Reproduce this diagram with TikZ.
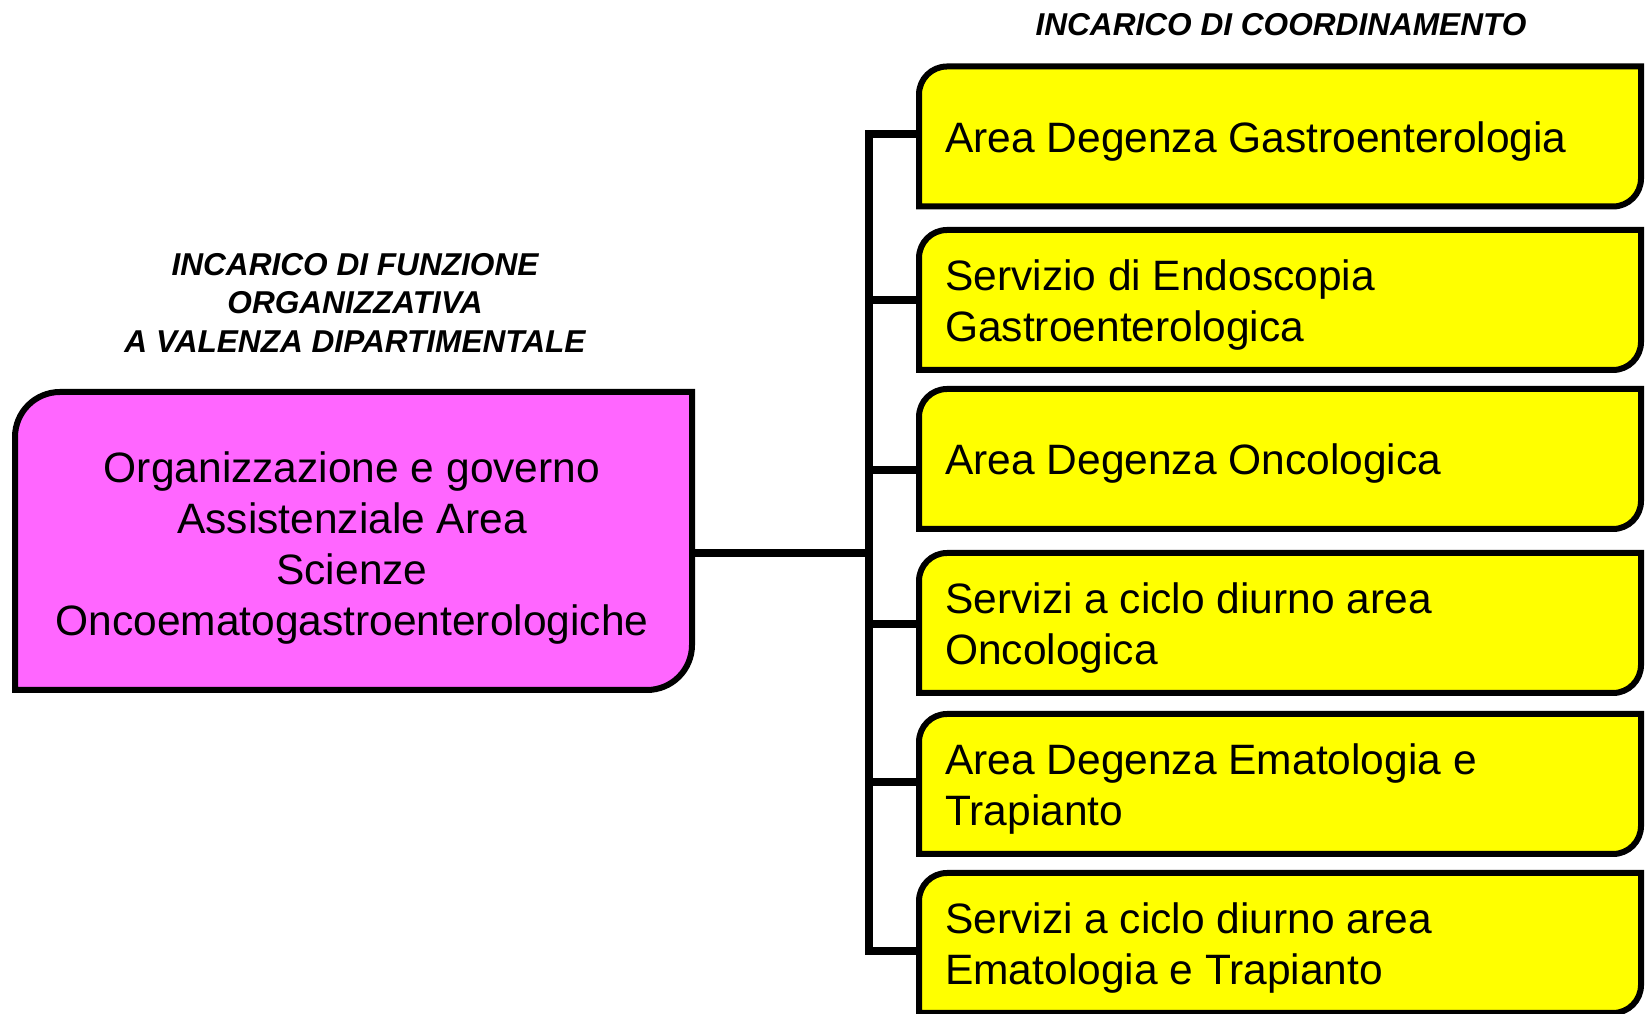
\documentclass[tikz,border=0pt]{standalone}
\usepackage{fontspec}
\setmainfont{Liberation Sans}
\newfontfamily\hdrfont{Liberation Sans}
\usetikzlibrary{calc}
\definecolor{ylw}{HTML}{FFFF00}
\definecolor{mgn}{HTML}{FF66FF}
\newcommand\tlbrshape[3]{%
  \filldraw[#3] (#1.south west) -- ([yshift=-#2]#1.north west)
    arc[start angle=180,end angle=90,radius=#2] -- (#1.north east)
    -- ([yshift=#2]#1.south east)
    arc[start angle=0,end angle=-90,radius=#2] -- cycle;}
\begin{document}
\begin{tikzpicture}[x=1pt,y=1pt,
  frame/.style={draw=none,fill=none,inner sep=0pt,outer sep=0pt,rectangle},
  yframe/.style={frame,minimum width=722pt,minimum height=140pt},
  ybox/.style={draw=black,line width=6pt,fill=ylw},
  mbox/.style={draw=black,line width=6pt,fill=mgn},
  conn/.style={draw=black,line width=7.5pt},
  ytext/.style={anchor=north west,inner sep=0pt,align=left,font=\fontsize{42.5}{50.8}\selectfont},
  mtext/.style={anchor=north,inner sep=0pt,align=center,font=\fontsize{42.5}{50.7}\selectfont},
  htext/.style={inner sep=0pt,align=center,font=\hdrfont\bfseries\itshape\fontsize{31.6}{38.4}\selectfont}]
\clip (0,0) rectangle (1646,1014);
% frames
\node[frame,minimum width=677pt,minimum height=298pt] (m) at (353.5,473) {};
\node[yframe] (b1) at (1280,877.5) {};
\node[yframe] (b2) at (1280,714) {};
\node[yframe] (b3) at (1280,555) {};
\node[yframe] (b4) at (1280,391) {};
\node[yframe] (b5) at (1280,230) {};
\node[yframe] (b6) at (1280,71) {};
% connectors
\coordinate (j) at (869,461);
\coordinate (s1) at (869,880);
\coordinate (s2) at (869,714);
\coordinate (s3) at (869,544);
\coordinate (s4) at (869,390);
\coordinate (s5) at (869,232);
\coordinate (s6) at (869,63);
\draw[conn] (j -| m.east) -- (j);
\draw[conn] (s1 -| b1.west) -- (s1) -- (s6) -- (s6 -| b6.west);
\draw[conn] (s2) -- (s2 -| b2.west);
\draw[conn] (s3) -- (s3 -| b3.west);
\draw[conn] (s4) -- (s4 -| b4.west);
\draw[conn] (s5) -- (s5 -| b5.west);
% shapes
\tlbrshape{m}{45pt}{mbox}
\tlbrshape{b1}{28pt}{ybox}
\tlbrshape{b2}{28pt}{ybox}
\tlbrshape{b3}{28pt}{ybox}
\tlbrshape{b4}{28pt}{ybox}
\tlbrshape{b5}{28pt}{ybox}
\tlbrshape{b6}{28pt}{ybox}
% texts
\node[mtext] (mt) at (352,562) {Organizzazione e governo\\Assistenziale Area\\Scienze\\Oncoematogastroenterologiche};
\node[ytext] (t1) at (945,892.7) {Area Degenza Gastroenterologia};
\node[ytext] (t2) at (945,754.6) {Servizio di Endoscopia\\Gastroenterologica};
\node[ytext] (t3) at (945,570.2) {Area Degenza Oncologica};
\node[ytext] (t4) at (945,431.6) {Servizi a ciclo diurno area\\Oncologica};
\node[ytext] (t5) at (945,270.6) {Area Degenza Ematologia e\\Trapianto};
\node[ytext] (t6) at (945,111.6) {Servizi a ciclo diurno area\\Ematologia e Trapianto};
\node[htext,anchor=base] (h1) at (1281,978) {INCARICO DI COORDINAMENTO};
\node[htext,anchor=north] (h2) at (355,761) {INCARICO DI FUNZIONE\\ORGANIZZATIVA\\A VALENZA DIPARTIMENTALE};
\end{tikzpicture}
\end{document}
